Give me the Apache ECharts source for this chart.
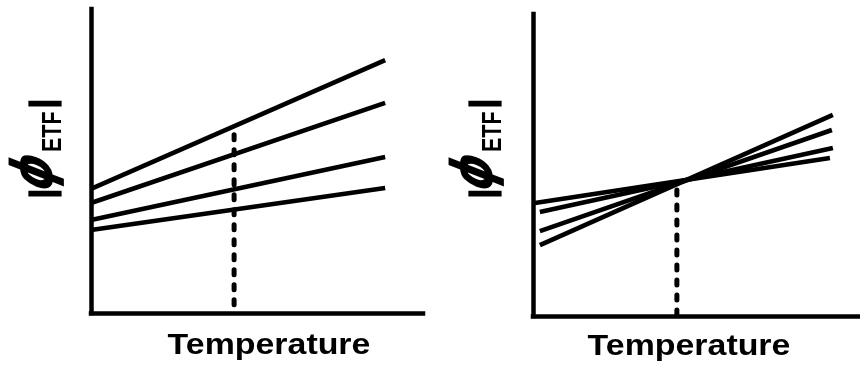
<!DOCTYPE html>
<html>
<head>
<meta charset="utf-8">
<script src="https://cdn.jsdelivr.net/npm/echarts@6/dist/echarts.min.js"></script>
<style>
  html, body { margin: 0; padding: 0; background: #fff; }
  #chart { width: 860px; height: 370px; }
</style>
</head>
<body>
<div id="chart"></div>
<script>
// ---- Data (axis units 0..100) ----
const xAxisTitle = 'Temperature';
const yAxisSymbol = 'ϕ';
const yAxisSub = 'ETF';

// Left panel: four lines diverging with temperature
const leftLine1 = [[0, 40.8], [88.6, 83.2]];
const leftLine2 = [[0, 36.2], [88.6, 69.1]];
const leftLine3 = [[0, 30.6], [88.6, 51.3]];
const leftLine4 = [[0, 27.3], [88.6, 41.1]];
const leftMarker = [[43.1, 58.6], [43.1, 0]];

// Right panel: four lines crossing at one temperature
const rightLineA = [[2.1, 23.5], [91.7, 66.6]];
const rightLineB = [[2.1, 28.1], [91.4, 61.6]];
const rightLineC = [[2.1, 34.4], [91.7, 55.6]];
const rightLineD = [[0.6, 37.4], [90.8, 52.3]];
const rightMarker = [[44.0, 41.7], [44.0, 0]];

const FONT = "'Liberation Sans', Arial, Helvetica, sans-serif";
const PHI_FONT = "'DejaVu Sans', 'Liberation Sans', sans-serif";

function axisPair(gi) {
  return {
    type: 'value', gridIndex: gi, min: 0, max: 100,
    axisLabel: { show: false }, axisTick: { show: false }, splitLine: { show: false },
    axisLine: { show: true, lineStyle: { color: '#000', width: 4.5, cap: 'square' } }
  };
}

function solid(gi, data) {
  return {
    type: 'line', xAxisIndex: gi, yAxisIndex: gi, data: data,
    showSymbol: false, symbol: 'none', silent: true,
    lineStyle: { color: '#000', width: 4.6, cap: 'butt' }
  };
}
function dotted(gi, data) {
  return {
    type: 'line', xAxisIndex: gi, yAxisIndex: gi, data: data,
    showSymbol: false, symbol: 'none', silent: true,
    lineStyle: { color: '#000', width: 5, type: [5, 10], cap: 'round' }
  };
}

function yLabel(ox, oy) {
  return {
    type: 'group', x: ox, y: oy, rotation: Math.PI / 2, scaleX: 1, scaleY: 1.3,
    children: [
      { type: 'text', x: 1.5, y: -8.6,
        style: { text: '|', fontSize: 24.5, fontWeight: 'bold', fontFamily: FONT, fill: '#000',
                 stroke: '#000', lineWidth: 2.5, align: 'center', verticalAlign: 'middle' } },
      { type: 'text', x: 23, y: -14, skewX: -0.3,
        style: { text: yAxisSymbol, fontSize: 44, fontWeight: 'bold', fontStyle: 'italic', fontFamily: PHI_FONT, fill: '#000',
                 align: 'center', verticalAlign: 'middle' } },
      { type: 'text', x: 43, y: -1.5,
        style: { text: yAxisSub, fontSize: 21.5, fontWeight: 'bold', fontFamily: FONT, fill: '#000',
                 align: 'left', verticalAlign: 'middle' } },
      { type: 'text', x: 91.5, y: -8.6,
        style: { text: '|', fontSize: 24.5, fontWeight: 'bold', fontFamily: FONT, fill: '#000',
                 stroke: '#000', lineWidth: 2.5, align: 'center', verticalAlign: 'middle' } }
    ]
  };
}

function xLabel(cx, cy) {
  return {
    type: 'text', x: cx, y: cy, scaleX: 1.13, scaleY: 1,
    style: { text: xAxisTitle, fontSize: 30, fontWeight: 'bold', fontFamily: FONT, fill: '#000',
             align: 'center', verticalAlign: 'middle' }
  };
}

const chart = echarts.init(document.getElementById('chart'), null, { renderer: 'canvas' });
chart.setOption({
  animation: false,
  backgroundColor: '#fff',
  grid: [
    { left: 91, top: 9, width: 332, height: 304 },
    { left: 533, top: 14, width: 327, height: 302 }
  ],
  xAxis: [axisPair(0), axisPair(1)],
  yAxis: [axisPair(0), axisPair(1)],
  series: [
    solid(0, leftLine1), solid(0, leftLine2), solid(0, leftLine3), solid(0, leftLine4),
    dotted(0, leftMarker),
    solid(1, rightLineA), solid(1, rightLineB), solid(1, rightLineC), solid(1, rightLineD),
    dotted(1, rightMarker)
  ],
  graphic: [
    yLabel(55, 195),
    yLabel(495, 195),
    xLabel(269, 346),
    xLabel(689, 347)
  ]
});
</script>
</body>
</html>
